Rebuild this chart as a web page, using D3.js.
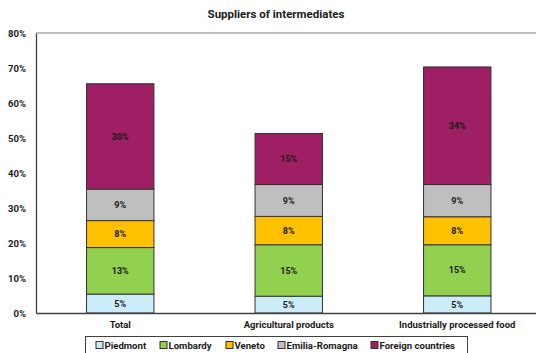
<!DOCTYPE html>
<html>
<head>
<meta charset="utf-8">
<script src="https://cdn.jsdelivr.net/npm/d3@7/dist/d3.min.js"></script>
<style>
  html, body { margin: 0; padding: 0; background: #fff; }
  svg { display: block; font-family: Roboto, "Liberation Sans", sans-serif; }
  text { font-weight: bold; fill: #1a1a1a; }
</style>
</head>
<body>
<svg id="chart" width="536" height="353"></svg>
<script>
// Share of intermediates by supplier region (%)
const categories = ["Total", "Agricultural products", "Industrially processed food"];
const seriesNames = ["Piedmont", "Lombardy", "Veneto", "Emilia-Romagna", "Foreign countries"];
const piedmont = [5.4, 4.8, 4.9];
const lombardy = [13.3, 14.7, 14.6];
const veneto = [7.7, 8.1, 8.0];
const emilia = [9.0, 9.1, 9.2];
const foreign = [30.1, 14.6, 33.6];
const colors = ["#ccecfa", "#92d050", "#ffc000", "#bfbfbf", "#9e1f63"];
const yTicks = [0, 10, 20, 30, 40, 50, 60, 70, 80];

const seriesValues = [piedmont, lombardy, veneto, emilia, foreign];
const rows = categories.map((c, i) => {
  const r = { category: c };
  seriesNames.forEach((s, j) => { r[s] = seriesValues[j][i]; });
  return r;
});
const stacked = d3.stack().keys(seriesNames)(rows);

const svg = d3.select("#chart");

const x = d3.scaleBand().domain(categories).range([36, 541.5]).paddingInner(0.6).paddingOuter(0.3);
const y = d3.scaleLinear().domain([0, 80]).range([313, 33]);

// title
svg.append("text")
  .attr("x", 276).attr("y", 18)
  .attr("text-anchor", "middle")
  .style("font-size", "11.5px")
  .text("Suppliers of intermediates");

// top frame line
svg.append("line").attr("x1", 36).attr("x2", 536).attr("y1", 33).attr("y2", 33)
  .attr("stroke", "#7f7f7f").attr("stroke-width", 1);

// y axis
const yAxis = d3.axisLeft(y).tickValues(yTicks).tickSize(0).tickPadding(10)
  .tickFormat(d => d + "%");
const gy = svg.append("g").attr("transform", "translate(36,0)").call(yAxis);
gy.select(".domain").attr("stroke", "#404040").attr("stroke-width", 1.3);
gy.selectAll("text").style("font-size", "9.5px").style("font-weight", "bold")
  .style("font-family", "Roboto, sans-serif").attr("fill", "#1a1a1a");

// bars
const groups = svg.append("g").selectAll("g").data(stacked).join("g")
  .attr("fill", (d, i) => colors[i]);
groups.selectAll("rect").data(d => d).join("rect")
  .attr("x", d => x(d.data.category))
  .attr("width", x.bandwidth())
  .attr("y", d => y(d[1]))
  .attr("height", d => y(d[0]) - y(d[1]))
  .attr("stroke", "#333")
  .attr("stroke-width", 1);

// value labels
stacked.forEach(s => {
  svg.append("g").selectAll("text").data(s).join("text")
    .attr("x", d => x(d.data.category) + x.bandwidth() / 2)
    .attr("y", d => (y(d[0]) + y(d[1])) / 2)
    .attr("dy", "0.35em")
    .attr("text-anchor", "middle")
    .style("font-size", "9px")
    .text(d => d3.format(".0f")(d.data[s.key]) + "%");
});

// x axis
const xAxis = d3.axisBottom(x).tickSize(0).tickPadding(8);
const gx = svg.append("g").attr("transform", "translate(0,313)").call(xAxis);
gx.select(".domain").attr("stroke", "#404040").attr("stroke-width", 1.3);
gx.selectAll("text").style("font-size", "9.5px").style("font-weight", "bold")
  .style("font-family", "Roboto, sans-serif").attr("fill", "#1a1a1a");

// legend
const legend = svg.append("g");
legend.append("rect").attr("x", 85.5).attr("y", 336.5).attr("width", 382).attr("height", 20)
  .attr("fill", "#fff").attr("stroke", "#404040").attr("stroke-width", 1);
const legendX = [99, 163, 229, 281, 374];
seriesNames.forEach((s, i) => {
  legend.append("rect").attr("x", legendX[i] - 3).attr("y", 341.5).attr("width", 7).attr("height", 7)
    .attr("fill", colors[i]).attr("stroke", "#333").attr("stroke-width", 1);
  legend.append("text").attr("x", legendX[i] + 5.5).attr("y", 345.5).attr("dy", "0.35em")
    .style("font-size", "9.6px").text(s);
});
</script>
</body>
</html>
